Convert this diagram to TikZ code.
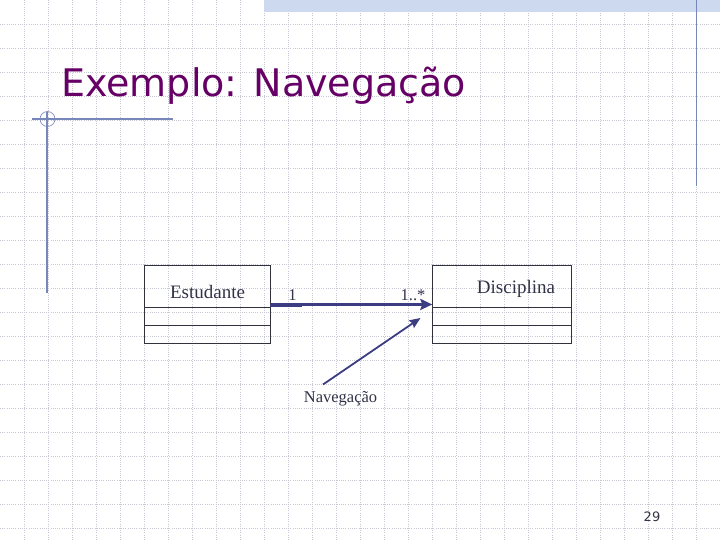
\documentclass[tikz,border=0pt]{standalone}
\usepackage{fontspec}
\setmainfont{Liberation Serif}
\newfontfamily\titlefont{DejaVu Sans}
\usetikzlibrary{arrows.meta}
\definecolor{titlepurple}{RGB}{102,0,102}
\definecolor{navy}{RGB}{60,60,130}
\definecolor{boxline}{RGB}{50,50,62}
\definecolor{txt}{RGB}{50,50,72}
\definecolor{guide}{RGB}{120,135,185}
\definecolor{band}{RGB}{205,217,238}
\definecolor{gridc}{RGB}{200,200,212}
\tikzset{
  gridline/.style={gridc, line width=0.7pt, dash pattern=on 1pt off 1.2pt},
  guideline/.style={guide, line width=1.1pt},
  classbox/.style={draw=boxline, line width=0.9pt, minimum width=126pt, minimum height=78pt, anchor=north west, inner sep=0pt},
  divider/.style={boxline, line width=0.9pt},
  classname/.style={txt, font=\fontsize{19}{19}\selectfont, anchor=base, inner sep=0pt},
  mult/.style={txt, font=\fontsize{16.5}{16.5}\selectfont, anchor=base, inner sep=0pt},
  assoc/.style={navy, line width=3pt, -{Stealth[length=12pt,width=11pt,inset=2pt]}},
  pointer/.style={navy, line width=1.8pt, -{Stealth[length=11pt,width=9pt,inset=1.5pt]}},
}
\begin{document}
\begin{tikzpicture}[x=1pt,y=-1pt]
\useasboundingbox (0,0) rectangle (720,540);
\fill[white] (0,0) rectangle (720,540);
% grid
\foreach \i in {24,48,...,696} \draw[gridline] (\i,0) -- (\i,540);
\foreach \j in {24,48,...,528} \draw[gridline] (0,\j) -- (720,\j);
% top band
\fill[band] (264,0) rectangle (720,12);
% guide lines
\draw[guideline] (696.5,0) -- (696.5,186);
\draw[guideline] (47,112) -- (47,293);
\draw[guideline] (32,119) -- (173,119);
\draw[guide, line width=0.6pt] (47.5,119) circle[radius=7.5];
% title
\node[titlepurple, font=\titlefont\fontsize{38}{38}\selectfont, anchor=base west, inner sep=0pt] (title) at (61,97) {Exemplo: Navegação};
% classes
\node[classbox] (est) at (144,265) {};
\draw[divider] (144,307) -- (270,307);
\draw[divider] (144,325) -- (270,325);
\node[classname] (estname) at (207.5,298) {Estudante};
\node[classbox, minimum width=138.5pt] (dis) at (432.3,265) {};
\draw[divider] (432.3,307) -- (570.8,307);
\draw[divider] (432.3,325) -- (570.8,325);
\node[classname] (disname) at (516,293) {Disciplina};
% association
\draw[assoc] (est.east) -- (dis.west);
\draw[navy, line width=3.5pt] (270,305.5) -- (302,305.5);
\node[mult] (m1) at (292.5,300) {1};
\node[mult] (m2) at (413,300) {1..*};
% navigation pointer
\node[txt, font=\fontsize{16.5}{16.5}\selectfont, inner sep=0pt] (nav) at (340.5,399) {Navegação};
\coordinate (navstart) at (323,384.5);
\coordinate (navtip) at (420.5,318);
\draw[pointer] (navstart) -- (navtip);
% page number
\node[txt, font=\titlefont\fontsize{13}{13}\selectfont, inner sep=0pt] (page) at (652,517) {29};
\end{tikzpicture}
\end{document}
